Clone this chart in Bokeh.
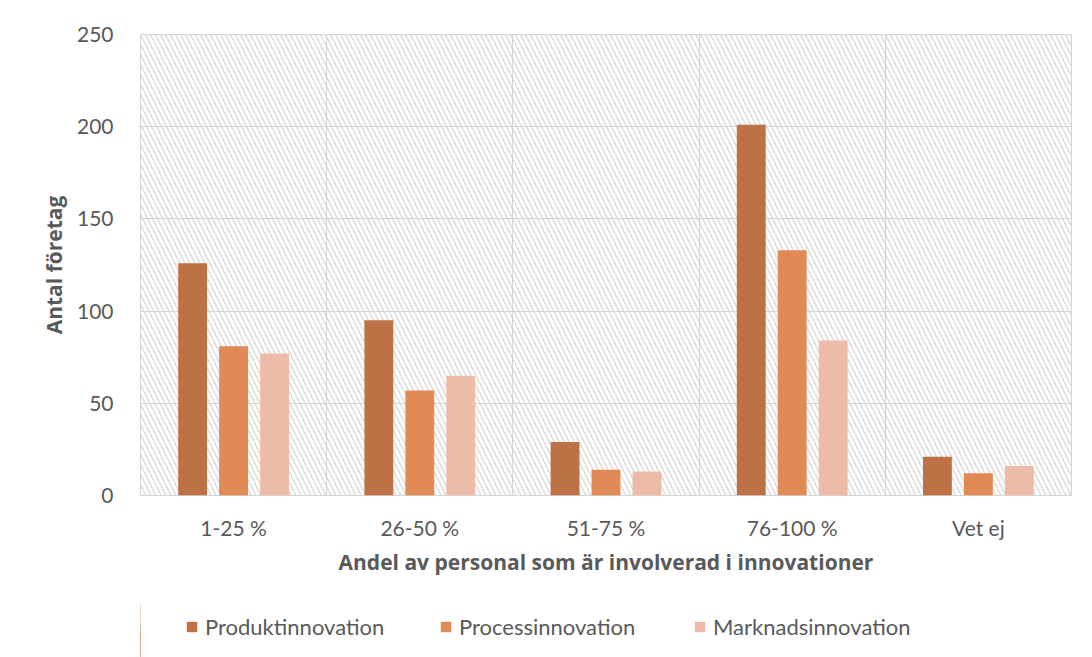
from bokeh.plotting import figure
from bokeh.layouts import column
from bokeh.models import (Range1d, FixedTicker, BoxAnnotation, Legend, LegendItem)
from bokeh.embed import file_html
from bokeh.resources import INLINE

categories = ["1-25 %", "26-50 %", "51-75 %", "76-100 %", "Vet ej"]
series_names = ["Produktinnovation", "Processinnovation", "Marknadsinnovation"]
produkt = [126, 95, 29, 201, 21]
process = [81, 57, 14, 133, 12]
marknad = [77, 65, 13, 84, 16]
y_ticks = [0, 50, 100, 150, 200, 250]

colors = ["#BC7244", "#E28A55", "#EDBCA9"]
TEXT = "#595959"
GRID = "#d4d4d4"

p = figure(width=1092, height=590, output_backend="svg", toolbar_location=None,
           x_range=Range1d(0, len(categories)), y_range=Range1d(0, 250),
           min_border_left=140, min_border_right=21, min_border_top=34,
           min_border_bottom=95)
p.background_fill_color = "white"
p.border_fill_color = "white"
p.outline_line_color = GRID
p.outline_line_width = 1

hatch = BoxAnnotation(fill_color=None, line_color=None, hatch_pattern="\\",
                      hatch_color="#dcdcdc", hatch_scale=10, hatch_weight=1.5,
                      level="image")
p.add_layout(hatch)

p.xgrid.ticker = FixedTicker(ticks=list(range(len(categories) + 1)))
p.xgrid.grid_line_color = GRID
p.ygrid.grid_line_color = GRID

offsets = [-0.22, 0.0, 0.22]
bar_w = 0.155
series = [produkt, process, marknad]
for vals, off, col in zip(series, offsets, colors):
    xs = [i + 0.5 + off for i in range(len(categories))]
    p.vbar(x=xs, top=vals, width=bar_w, bottom=0, fill_color=col, line_color=None)

# axes
p.xaxis.ticker = FixedTicker(ticks=[i + 0.5 for i in range(len(categories))])
p.xaxis.major_label_overrides = {i + 0.5: c for i, c in enumerate(categories)}
p.yaxis.ticker = FixedTicker(ticks=y_ticks)
for ax in (p.xaxis[0], p.yaxis[0]):
    ax.axis_line_color = None
    ax.major_tick_line_color = None
    ax.minor_tick_line_color = None
    ax.major_label_text_color = TEXT
    ax.major_label_text_font = "Lato"
    ax.major_label_text_font_size = "21px"
    ax.axis_label_text_color = TEXT
    ax.axis_label_text_font = "Open Sans"
    ax.axis_label_text_font_style = "bold"
    ax.axis_label_text_font_size = "21px"

p.xaxis.major_label_standoff = 13
p.xaxis.axis_label = "Andel av personal som är involverad i innovationer"
p.xaxis.axis_label_standoff = 5
p.yaxis.major_label_standoff = 21
p.yaxis.axis_label = "Antal företag"
p.yaxis.axis_label_standoff = 6

# legend strip below the chart (same series, kept outside its visible x range)
lp = figure(width=1092, height=67, output_backend="svg", toolbar_location=None,
            x_axis_location=None, y_axis_location=None,
            x_range=Range1d(100, 105), y_range=Range1d(0, 250),
            min_border_left=140, min_border_right=21, min_border_top=0,
            min_border_bottom=0)
lp.grid.visible = False
lp.outline_line_color = None
lp.background_fill_color = "white"
lp.border_fill_color = "white"
items = []
for name, vals, off, col in zip(series_names, series, offsets, colors):
    xs = [i + 0.5 + off for i in range(len(categories))]
    r = lp.vbar(x=xs, top=vals, bottom=0, width=bar_w, fill_color=col, line_color=None)
    items.append(LegendItem(label=name, renderers=[r]))

legend = Legend(items=items, location=(45, 17), orientation="horizontal",
                glyph_width=13, glyph_height=13, label_standoff=7,
                label_width=234, spacing=0,
                padding=0, margin=0, border_line_color=None,
                background_fill_alpha=0, label_text_color=TEXT,
                label_text_font="Lato", label_text_font_size="22px")
lp.add_layout(legend, "center")

layout = column(p, lp, spacing=0)
open("out.html", "w").write(file_html(layout, INLINE))
